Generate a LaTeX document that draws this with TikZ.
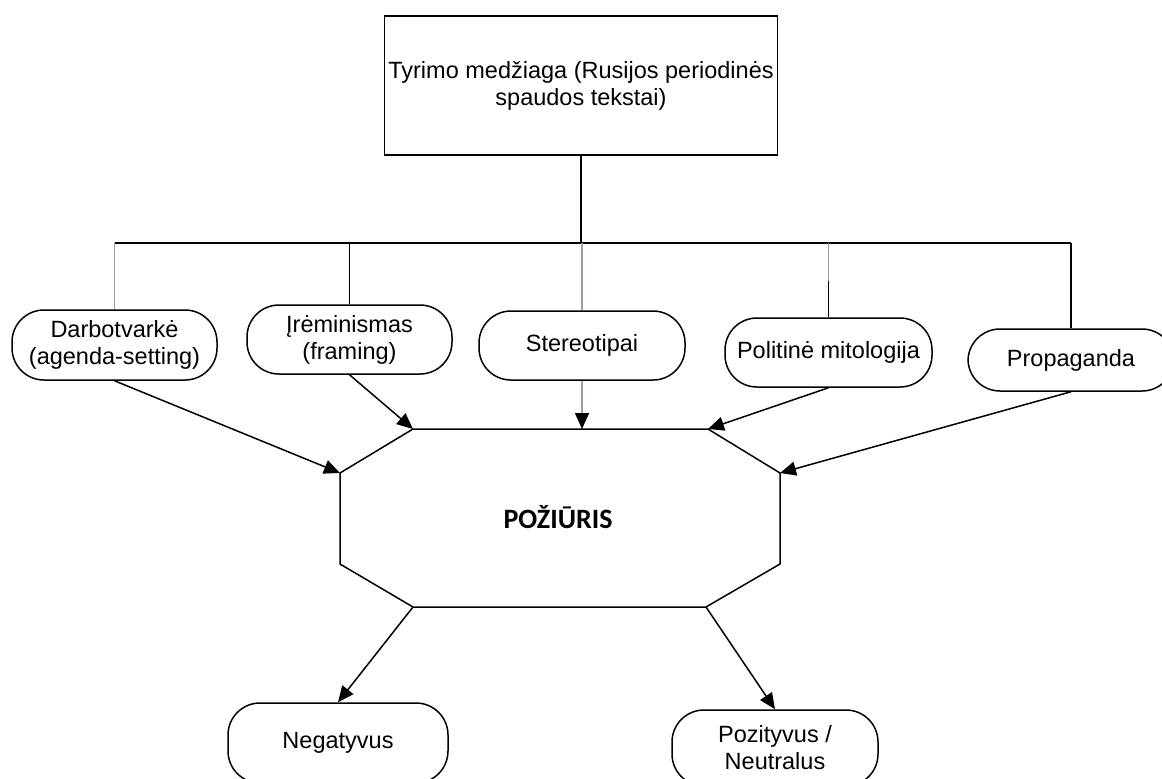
\documentclass[tikz,border=0pt]{standalone}
\usepackage{fontspec}
\setmainfont{Liberation Sans}
\newfontfamily\carlito{Carlito}
\usetikzlibrary{arrows.meta}
\definecolor{lgray}{RGB}{150,160,172}
\begin{document}
\begin{tikzpicture}[x=0.5pt,y=-0.5pt,line width=0.75pt,
  txt/.style={font=\fontsize{11.75}{13.5}\selectfont, align=center, inner sep=0pt},
  box/.style={txt, draw, rounded corners=16pt},
  arr/.style={-{Triangle[length=8pt,width=7pt,color=black]}}]
\useasboundingbox (0,0) rectangle (1162,778);
\clip (0,0) rectangle (1162,778);
% top box
\node[txt, draw, minimum width=196.5pt, minimum height=69.5pt] (top) at (581,85.5)
  {Tyrimo medžiaga (Rusijos periodinės\\spaudos tekstai)};
% middle row
\node[box, minimum width=102.5pt, minimum height=35pt] (dar) at (114.5,345) {Darbotvarkė\\(agenda-setting)};
\node[box, minimum width=102.5pt, minimum height=34.5pt] (ire) at (349.5,339.5) {Įrėminismas\\(framing)};
\node[box, minimum width=103pt, minimum height=34.5pt] (ste) at (582,345.5) {Stereotipai};
\node[box, minimum width=103.5pt, minimum height=34.5pt] (pol) at (828.5,352.5) {Politinė mitologija};
\node[box, minimum width=103pt, minimum height=31pt] (pro) at (1071,360) {Propaganda};
% bottom row
\node[box, minimum width=110pt, minimum height=40pt] (neg) at (338,743) {Negatyvus};
\node[box, minimum width=103pt, minimum height=38pt] (poz) at (775,748) {Pozityvus /\\Neutralus};
% octagon
\coordinate (tl) at (413,429);
\coordinate (tr) at (708,429);
\coordinate (rt) at (780,473);
\coordinate (rb) at (780,564);
\coordinate (br) at (706,607);
\coordinate (bl) at (413,607);
\coordinate (lb) at (340,564);
\coordinate (lt) at (340,473);
\draw (tl) -- (tr) -- (rt) -- (rb) -- (br) -- (bl) -- (lb) -- (lt) -- cycle;
\node[font=\carlito\bfseries\fontsize{14}{16}\selectfont, inner sep=0pt] (att) at (558,517) {POŽIŪRIS};
% tree connectors
\coordinate (bar) at (581,243);
\coordinate (polmid) at (828.5,281);
\draw (top.south) -- (bar);
\draw (bar -| dar.north) -- (bar -| pro.north);
\draw[lgray] (bar -| dar.north) -- (dar.north);
\draw (bar -| ire.north) -- (ire.north);
\draw[lgray] (bar -| ste.north) -- (ste.north);
\draw[lgray] (bar -| pol.north) -- (polmid);
\draw (polmid) -- (pol.north);
\draw (bar -| pro.north) -- (pro.north);
% arrows into octagon
\draw[arr] (dar.south) -- (lt);
\draw[arr] (ire.south) -- (tl);
\draw[arr, lgray] (ste.south) -- (ste.south |- tl);
\draw[arr] (pol.south) -- (tr);
\draw[arr] (pro.south) -- (rt);
% arrows out
\draw[arr] (bl) -- (neg.north);
\draw[arr] (br) -- (poz.north);
\end{tikzpicture}
\end{document}
